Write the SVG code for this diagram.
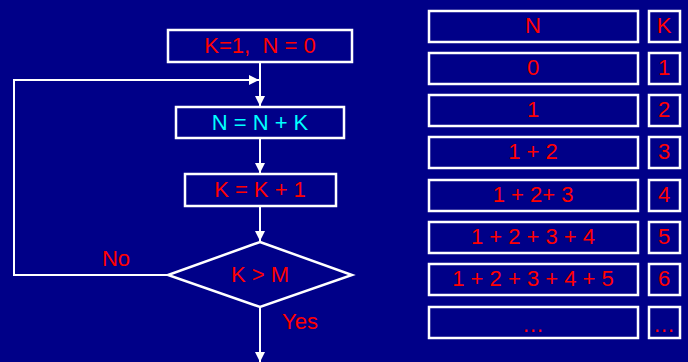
<svg xmlns="http://www.w3.org/2000/svg" width="688" height="362" viewBox="0 0 688 362">
<style>
.bx{fill:none;stroke:#fff;stroke-width:2.5}
.ln{fill:none;stroke:#fff;stroke-width:2}
.t{font-family:"Liberation Sans",Arial,sans-serif;font-size:22px;fill:#ff0000;text-anchor:middle;white-space:pre}
.c{fill:#00ffff}
</style>
<defs>
<marker id="ah" viewBox="0 0 10 10" refX="10" refY="5" markerWidth="10" markerHeight="10" markerUnits="userSpaceOnUse" orient="auto">
<path d="M0,0 L10,5 L0,10 z" fill="#fff"/>
</marker>
</defs>
<rect width="688" height="362" fill="#000088"/>
<g id="connectors">
<line class="ln" x1="260" y1="62" x2="260" y2="106" marker-end="url(#ah)"/>
<line class="ln" x1="260" y1="138" x2="260" y2="173" marker-end="url(#ah)"/>
<line class="ln" x1="260" y1="206" x2="260" y2="241" marker-end="url(#ah)"/>
<polyline class="ln" points="168,275 14,275 14,80 259,80" marker-end="url(#ah)"/>
<line class="ln" x1="260" y1="307" x2="260" y2="362" marker-end="url(#ah)"/>
<text class="t" x="116" y="266">No</text>
<text class="t" x="300" y="329">Yes</text>
</g>
<g id="init"><rect class="bx" x="168" y="30" width="184" height="32"/><text class="t" x="260" y="53">K=1,  N = 0</text></g>
<g id="sum"><rect class="bx" x="176" y="107" width="168" height="31"/><text class="t c" x="260" y="130">N = N + K</text></g>
<g id="inc"><rect class="bx" x="185" y="174" width="151" height="32"/><text class="t" x="260" y="197">K = K + 1</text></g>
<g id="cond"><polygon class="bx" points="260,242 352,275 260,307 168,275"/><text class="t" x="260" y="282">K &gt; M</text></g>
<g id="table">
<g id="r0"><rect class="bx" x="429" y="11" width="209" height="31"/><rect class="bx" x="649" y="11" width="31" height="31"/><text class="t" x="533" y="33">N</text><text class="t" x="664" y="33">K</text></g>
<g id="r1"><rect class="bx" x="429" y="53" width="209" height="31"/><rect class="bx" x="649" y="53" width="31" height="31"/><text class="t" x="533" y="75">0</text><text class="t" x="664" y="75">1</text></g>
<g id="r2"><rect class="bx" x="429" y="95" width="209" height="31"/><rect class="bx" x="649" y="95" width="31" height="31"/><text class="t" x="533" y="117">1</text><text class="t" x="664" y="117">2</text></g>
<g id="r3"><rect class="bx" x="429" y="137" width="209" height="31"/><rect class="bx" x="649" y="137" width="31" height="31"/><text class="t" x="533" y="159">1 + 2</text><text class="t" x="664" y="159">3</text></g>
<g id="r4"><rect class="bx" x="429" y="180" width="209" height="31"/><rect class="bx" x="649" y="180" width="31" height="31"/><text class="t" x="533" y="202">1 + 2+ 3</text><text class="t" x="664" y="202">4</text></g>
<g id="r5"><rect class="bx" x="429" y="222" width="209" height="31"/><rect class="bx" x="649" y="222" width="31" height="31"/><text class="t" x="533" y="244">1 + 2 + 3 + 4</text><text class="t" x="664" y="244">5</text></g>
<g id="r6"><rect class="bx" x="429" y="264" width="209" height="31"/><rect class="bx" x="649" y="264" width="31" height="31"/><text class="t" x="533" y="286">1 + 2 + 3 + 4 + 5</text><text class="t" x="664" y="286">6</text></g>
<g id="r7"><rect class="bx" x="429" y="307" width="209" height="31"/><rect class="bx" x="649" y="307" width="31" height="31"/><text class="t" x="533" y="332">…</text><text class="t" x="664" y="332">…</text></g>
</g>
</svg>
